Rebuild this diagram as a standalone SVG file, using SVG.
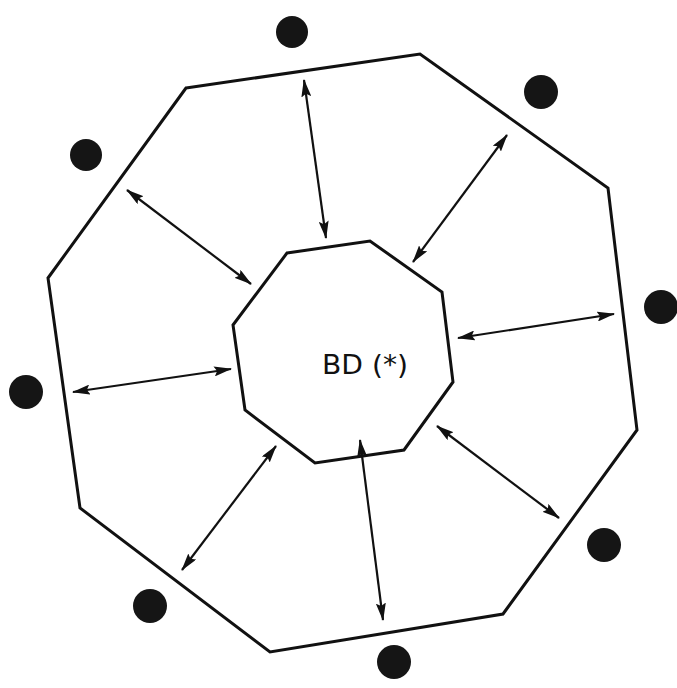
<svg xmlns="http://www.w3.org/2000/svg" width="677" height="688" viewBox="0 0 677 688">
<defs>
<marker id="ah" viewBox="0 0 18 10" refX="17" refY="5" markerWidth="18" markerHeight="10" markerUnits="userSpaceOnUse" orient="auto-start-reverse">
<path d="M0,0 L18,5 L0,10 L3,5 Z" fill="#111"/>
</marker>
<style>
.oct{fill:none;stroke:#111;stroke-width:3;stroke-linejoin:miter}
.arr{stroke:#111;stroke-width:2.2;fill:none;marker-start:url(#ah);marker-end:url(#ah)}
.dot{fill:#151515}
.lbl{font-family:"DejaVu Sans Condensed","Liberation Sans Narrow","Liberation Sans",sans-serif;font-size:26px;fill:#111}
</style>
</defs>
<rect width="677" height="688" fill="#fff"/>
<g id="outer"><polygon class="oct" points="186,88 420,54 608,188 637,430 503,614 270,652 80,508 48,278"/></g>
<g id="inner"><polygon class="oct" points="287,253 370,241 442,292 453,382 404,450 315,463 245,410 233,325"/>
<text class="lbl" x="322" y="374" textLength="86" lengthAdjust="spacingAndGlyphs">BD (*)</text></g>
<g id="dots">
<circle id="d1" class="dot" cx="292" cy="32" r="16"/>
<circle id="d2" class="dot" cx="541" cy="92" r="17"/>
<circle id="d3" class="dot" cx="86" cy="155" r="16"/>
<circle id="d4" class="dot" cx="661" cy="307" r="17"/>
<circle id="d5" class="dot" cx="26" cy="392" r="17"/>
<circle id="d6" class="dot" cx="604" cy="545" r="17"/>
<circle id="d7" class="dot" cx="150" cy="606" r="17"/>
<circle id="d8" class="dot" cx="394" cy="662" r="17"/>
</g>
<g id="connectors">
<line class="arr" x1="304" y1="80" x2="326" y2="238"/>
<line class="arr" x1="507" y1="135" x2="413" y2="262"/>
<line class="arr" x1="127" y1="190" x2="251" y2="284"/>
<line class="arr" x1="458" y1="338" x2="614" y2="314"/>
<line class="arr" x1="73" y1="392" x2="231" y2="369"/>
<line class="arr" x1="437" y1="426" x2="559" y2="518"/>
<line class="arr" x1="276" y1="446" x2="182" y2="570"/>
<line class="arr" x1="360" y1="440" x2="383" y2="620"/>
</g>
</svg>
